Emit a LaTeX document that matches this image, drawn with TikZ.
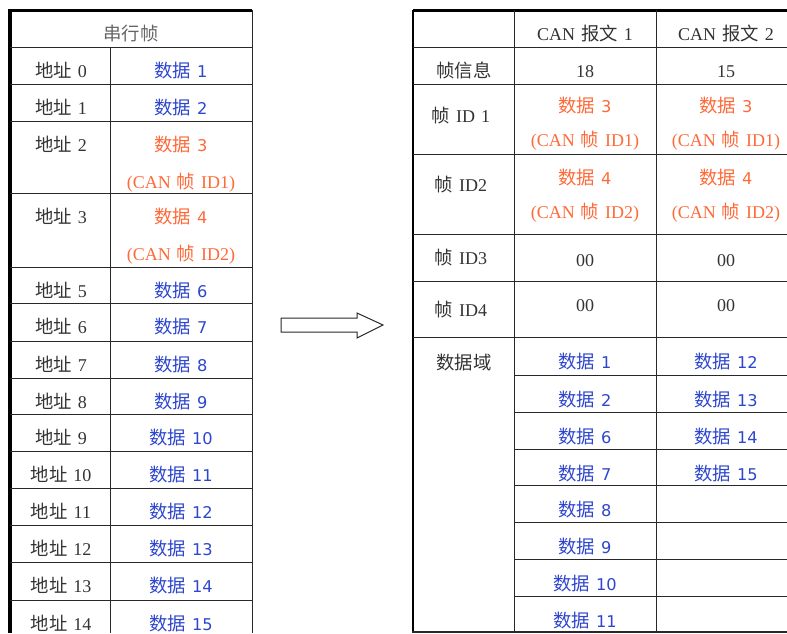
\documentclass[tikz,border=0pt]{standalone}
\usepackage{fontspec}
\setmainfont{Liberation Serif}
\setsansfont{DejaVu Sans}[Scale=0.9]
\newfontfamily\cjk{Noto Sans CJK SC}[Scale=1.02]
\newcommand{\zh}[1]{{\cjk #1}}
\newcommand{\cellfont}{\fontsize{18}{21}\selectfont\spaceskip=6pt\relax}
\newcommand{\datafont}{\fontsize{18}{21}\selectfont\sffamily\spaceskip=6pt\relax}
\definecolor{datablue}{RGB}{45,70,205}
\definecolor{idorange}{RGB}{255,105,55}
\definecolor{gridgray}{RGB}{40,40,40}

\begin{document}
\begin{tikzpicture}[
        x=1pt, y=-1pt,
        every node/.style={font=\cellfont, inner sep=0pt, anchor=base},
        textcell/.style={text=black!80},
        headcell/.style={text=black!60},
        bluecell/.style={text=datablue, font=\datafont},
        orangecell/.style={text=idorange, font=\datafont},
        orangeid/.style={text=idorange},
        gridline/.style={draw=gridgray, line width=1pt},
        frameline/.style={draw=black, line width=3.5pt},
        bigarrow/.style={draw=gridgray, line width=1pt, line join=miter}
    ]
        \useasboundingbox (0,0) rectangle (787,633);

        % Serial frame table
        \draw[frameline] (10,633) -- (10,10.5) -- (252,10.5);
        \draw[gridline] (252,10) -- (252,633);
        \draw[gridline] (110,47) -- (110,633);
        \draw[gridline] (10,47) -- (252,47) (10,84) -- (252,84) (10,121) -- (252,121)
            (10,193) -- (252,193) (10,267) -- (252,267) (10,303) -- (252,303)
            (10,341) -- (252,341) (10,378) -- (252,378) (10,414) -- (252,414)
            (10,451) -- (252,451) (10,488) -- (252,488) (10,525) -- (252,525)
            (10,562) -- (252,562) (10,600) -- (252,600);

        \node[headcell] (SERIAL) at (131,40) {\zh{串行帧}};
        \node[textcell] (ADDR0) at (61,77) {\zh{地址} 0};
        \node[bluecell] (DATA1) at (181,77) {\zh{数据} 1};
        \node[textcell] (ADDR1) at (61,114) {\zh{地址} 1};
        \node[bluecell] (DATA2) at (181,114) {\zh{数据} 2};
        \node[textcell] (ADDR2) at (61,151) {\zh{地址} 2};
        \node[orangecell] (DATA3) at (181,151) {\zh{数据} 3};
        \node[orangeid] (CANID1) at (181,188) {(CAN \zh{帧} ID1)};
        \node[textcell] (ADDR3) at (61,223) {\zh{地址} 3};
        \node[orangecell] (DATA4) at (181,223) {\zh{数据} 4};
        \node[orangeid] (CANID2) at (181,260) {(CAN \zh{帧} ID2)};
        \node[textcell] (ADDR5) at (61,297) {\zh{地址} 5};
        \node[bluecell] (DATA6) at (181,297) {\zh{数据} 6};
        \node[textcell] (ADDR6) at (61,333) {\zh{地址} 6};
        \node[bluecell] (DATA7) at (181,333) {\zh{数据} 7};
        \node[textcell] (ADDR7) at (61,371) {\zh{地址} 7};
        \node[bluecell] (DATA8) at (181,371) {\zh{数据} 8};
        \node[textcell] (ADDR8) at (61,408) {\zh{地址} 8};
        \node[bluecell] (DATA9) at (181,408) {\zh{数据} 9};
        \node[textcell] (ADDR9) at (61,444) {\zh{地址} 9};
        \node[bluecell] (DATA10) at (181,444) {\zh{数据} 10};
        \node[textcell] (ADDR10) at (61,481) {\zh{地址} 10};
        \node[bluecell] (DATA11) at (181,481) {\zh{数据} 11};
        \node[textcell] (ADDR11) at (61,518) {\zh{地址} 11};
        \node[bluecell] (DATA12) at (181,518) {\zh{数据} 12};
        \node[textcell] (ADDR12) at (61,555) {\zh{地址} 12};
        \node[bluecell] (DATA13) at (181,555) {\zh{数据} 13};
        \node[textcell] (ADDR13) at (61,592) {\zh{地址} 13};
        \node[bluecell] (DATA14) at (181,592) {\zh{数据} 14};
        \node[textcell] (ADDR14) at (61,630) {\zh{地址} 14};
        \node[bluecell] (DATA15) at (181,630) {\zh{数据} 15};

        % Conversion arrow
        \draw[bigarrow] (281,318) -- (357,318) -- (357,313) -- (383,325)
            -- (357,338) -- (357,332) -- (281,332) -- cycle;

        % CAN message table
        \draw[frameline] (413,10.5) -- (787,10.5);
        \draw[draw=black, line width=2pt] (413,10) -- (413,633);
        \draw[gridline] (514,10) -- (514,632) (656,10) -- (656,632);
        \draw[gridline] (413,47) -- (787,47) (413,84) -- (787,84) (413,154) -- (787,154)
            (413,234) -- (787,234) (413,281) -- (787,281) (413,337) -- (787,337);
        \draw[gridline] (514,375) -- (787,375) (514,412) -- (787,412) (514,449) -- (787,449)
            (514,485) -- (787,485) (514,522) -- (787,522) (514,559) -- (787,559)
            (514,596) -- (787,596);
        \draw[gridline, line width=1.5pt] (412,632) -- (787,632);

        \node[textcell] (MSG1) at (585,40) {CAN \zh{报文} 1};
        \node[textcell] (MSG2) at (726,40) {CAN \zh{报文} 2};
        \node[textcell] (INFO) at (464,77) {\zh{帧信息}};
        \node[textcell] (INFOA) at (585,77) {18};
        \node[textcell] (INFOB) at (726,77) {15};
        \node[textcell] (FID1) at (461,122) {\zh{帧} ID 1};
        \node[orangecell] (FID1A) at (585,112) {\zh{数据} 3};
        \node[orangeid] (FID1AX) at (585,146) {(CAN \zh{帧} ID1)};
        \node[orangecell] (FID1B) at (726,112) {\zh{数据} 3};
        \node[orangeid] (FID1BX) at (726,146) {(CAN \zh{帧} ID1)};
        \node[textcell] (FID2) at (461,191) {\zh{帧} ID2};
        \node[orangecell] (FID2A) at (585,184) {\zh{数据} 4};
        \node[orangeid] (FID2AX) at (585,218) {(CAN \zh{帧} ID2)};
        \node[orangecell] (FID2B) at (726,184) {\zh{数据} 4};
        \node[orangeid] (FID2BX) at (726,218) {(CAN \zh{帧} ID2)};
        \node[textcell] (FID3) at (461,264) {\zh{帧} ID3};
        \node[textcell] (FID3A) at (585,266) {00};
        \node[textcell] (FID3B) at (726,266) {00};
        \node[textcell] (FID4) at (461,316) {\zh{帧} ID4};
        \node[textcell] (FID4A) at (585,311) {00};
        \node[textcell] (FID4B) at (726,311) {00};
        \node[textcell] (FIELD) at (464,369) {\zh{数据域}};

        % Data field of message 1
        \node[bluecell] (MA1) at (585,368) {\zh{数据} 1};
        \node[bluecell] (MA2) at (585,406) {\zh{数据} 2};
        \node[bluecell] (MA6) at (585,443) {\zh{数据} 6};
        \node[bluecell] (MA7) at (585,480) {\zh{数据} 7};
        \node[bluecell] (MA8) at (585,516) {\zh{数据} 8};
        \node[bluecell] (MA9) at (585,553) {\zh{数据} 9};
        \node[bluecell] (MA10) at (585,590) {\zh{数据} 10};
        \node[bluecell] (MA11) at (585,627) {\zh{数据} 11};

        % Data field of message 2
        \node[bluecell] (MB12) at (726,368) {\zh{数据} 12};
        \node[bluecell] (MB13) at (726,406) {\zh{数据} 13};
        \node[bluecell] (MB14) at (726,443) {\zh{数据} 14};
        \node[bluecell] (MB15) at (726,480) {\zh{数据} 15};

    \end{tikzpicture}
\end{document}
